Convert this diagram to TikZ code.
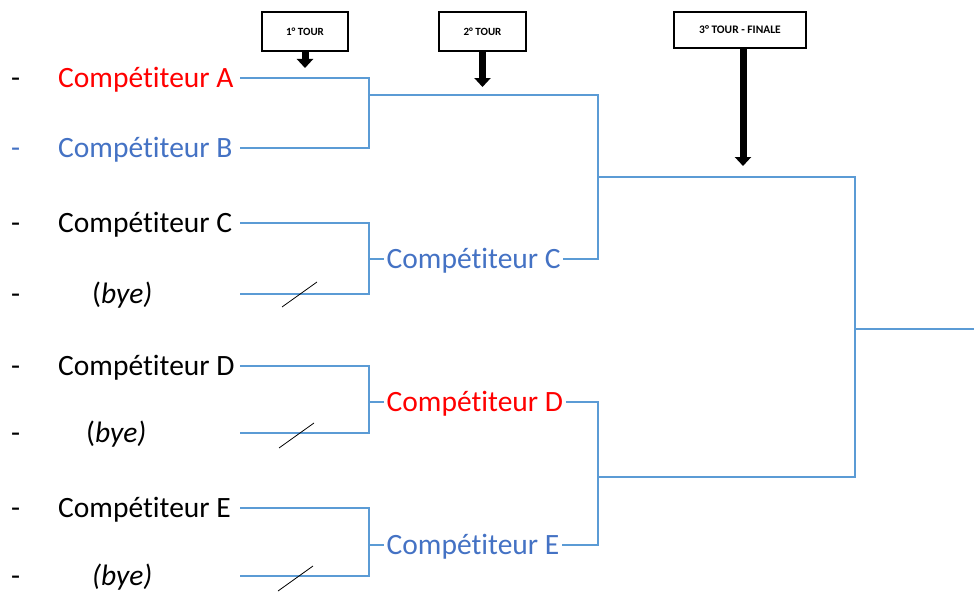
\documentclass[tikz,border=0pt]{standalone}
\usepackage{fontspec}
\setmainfont{Carlito}[Ligatures=NoCommon]
\usetikzlibrary{arrows.meta}

\definecolor{lineblue}{RGB}{91,155,213}
\definecolor{textblue}{RGB}{68,114,196}
\definecolor{textred}{RGB}{255,0,0}

\begin{document}
\begin{tikzpicture}[x=1pt,y=-1pt]
        \tikzstyle{every node}+=[inner sep=0pt]
        \tikzstyle{player}=[anchor=west,text height=18pt,text depth=0pt,font=\fontsize{29.5}{35}\selectfont]
        \tikzstyle{winner}=[player,inner xsep=2.5pt]
        \tikzstyle{bracket}=[lineblue,line width=1.2pt]
        \tikzstyle{cut}=[black,line width=0.8pt]
        \tikzstyle{tourbox}=[draw=black,line width=1.5pt,fill=white,font=\bfseries\fontsize{11}{12}\selectfont]
        \tikzstyle{pointer}=[black,line width=7pt,-{Triangle[width=16pt,length=9pt]}]
        \useasboundingbox (0,0) rectangle (974,594);
        % rounds
        \node [tourbox,minimum width=86pt,minimum height=39pt] (t1) at (305,31.5) {1° TOUR};
        \node [tourbox,minimum width=87pt,minimum height=39pt] (t2) at (482.5,31.5) {2° TOUR};
        \node [tourbox,minimum width=132pt,minimum height=36pt,font=\bfseries\fontsize{11.5}{13}\selectfont] (t3) at (740,30) {3° TOUR - FINALE};
        \coordinate (a1) at (305,68);
        \coordinate (a2) at (482.5,87);
        \coordinate (a3) at (743,166);
        \draw [pointer] (t1.south) -- (a1);
        \draw [pointer] (t2.south) -- (a2);
        \draw [pointer] (t3.south -| a3) -- (a3);
        % players
        \node [player] (hA) at (11,78) {-};
        \node [player,textblue] (hB) at (11,148) {-};
        \node [player] (hC) at (11,223) {-};
        \node [player] (hY1) at (11,294) {-};
        \node [player] (hD) at (11,366) {-};
        \node [player] (hY2) at (11,433) {-};
        \node [player] (hE) at (11,508) {-};
        \node [player] (hY3) at (11,576) {-};
        \node [player,textred] (pA) at (58,78) {Compétiteur A};
        \node [player,textblue] (pB) at (58,148) {Compétiteur B};
        \node [player] (pC) at (58,223) {Compétiteur C};
        \node [player] (pY1) at (92,294) {(\textit{bye)}};
        \node [player] (pD) at (58,366) {Compétiteur D};
        \node [player] (pY2) at (86,433) {(\textit{bye)}};
        \node [player] (pE) at (58,508) {Compétiteur E};
        \node [player] (pY3) at (92,576) {\textit{(bye)}};
        \coordinate (sA) at (240,78);
        \coordinate (sB) at (240,148);
        \coordinate (sC) at (240,223);
        \coordinate (sY1) at (240,294);
        \coordinate (sD) at (240,366);
        \coordinate (sY2) at (240,433);
        \coordinate (sE) at (240,508);
        \coordinate (sY3) at (240,576);
        % first round
        \coordinate (m1) at (369,95);
        \coordinate (m2) at (369,259);
        \coordinate (m3) at (369,402);
        \coordinate (m4) at (369,545);
        \draw [bracket] (sA) -| (m1) |- (sB);
        \draw [bracket] (sC) -| (m2) |- (sY1);
        \draw [bracket] (sD) -| (m3) |- (sY2);
        \draw [bracket] (sE) -| (m4) |- (sY3);
        \draw [cut] ([shift={(42,13)}]sY1) -- ++(35,-25);
        \draw [cut] ([shift={(39,15)}]sY2) -- ++(35,-25);
        \draw [cut] ([shift={(38,15)}]sY3) -- ++(35,-25);
        \node [winner,textblue] (wC) at (384,259) {Compétiteur C};
        \node [winner,textred] (wD) at (384,402) {Compétiteur D};
        \node [winner,textblue] (wE) at (384,545) {Compétiteur E};
        \draw [bracket] (m2) -- (wC.west);
        \draw [bracket] (m3) -- (wD.west);
        \draw [bracket] (m4) -- (wE.west);
        % second round and final
        \coordinate (q1) at (598,177);
        \coordinate (q2) at (598,477);
        \coordinate (f) at (855,329);
        \coordinate (champ) at (974,329);
        \draw [bracket] (m1) -| (q1) |- (wC.east);
        \draw [bracket] (wD.east) -| (q2) |- (wE.east);
        \draw [bracket] (q1) -| (f) |- (q2);
        \draw [bracket] (f) -- (champ);
\end{tikzpicture}
\end{document}
